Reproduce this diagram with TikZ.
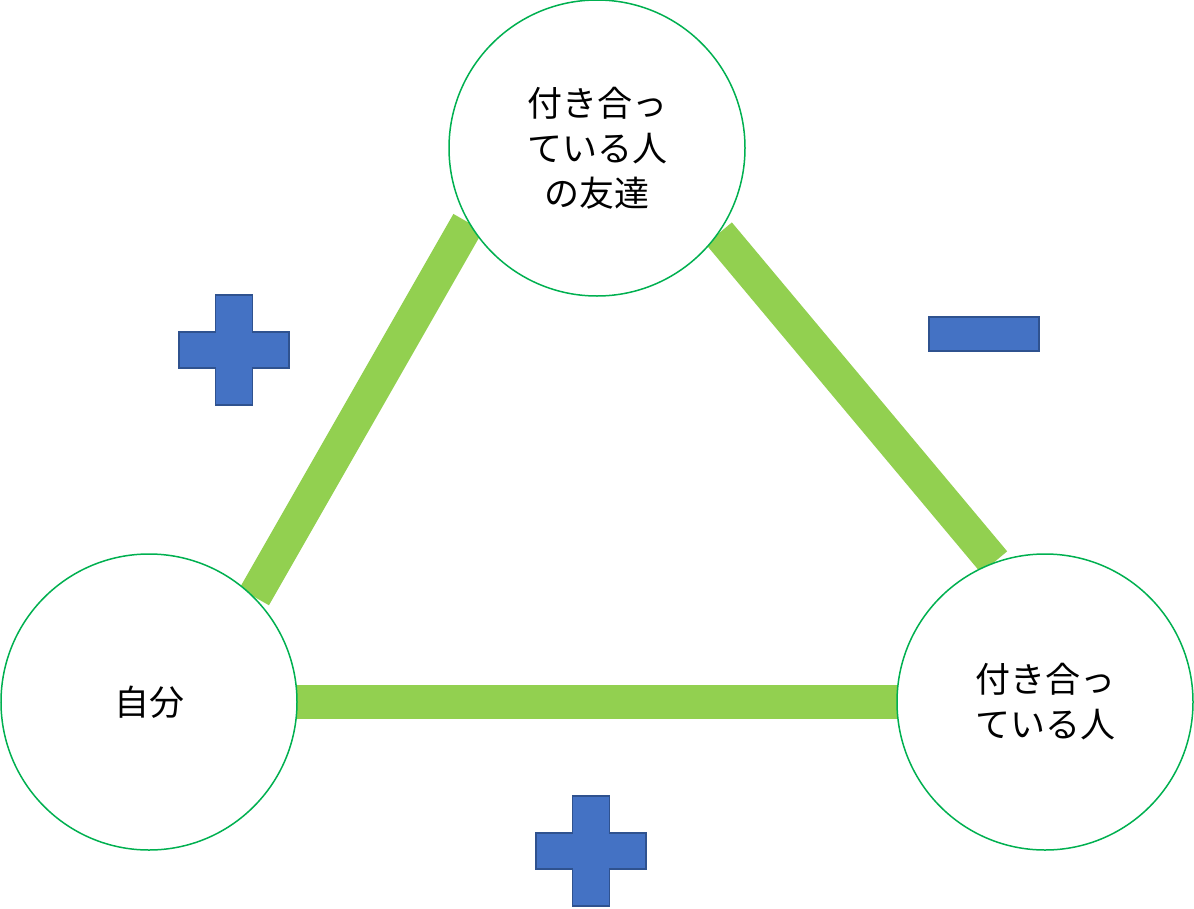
\documentclass[tikz,border=0pt]{standalone}
\usepackage{fontspec}
\newfontfamily\cjk{Noto Sans CJK JP}
\usetikzlibrary{backgrounds,calc}
\definecolor{linkgreen}{RGB}{146,208,80}
\definecolor{ringgreen}{RGB}{0,176,80}
\definecolor{signblue}{RGB}{68,114,196}
\definecolor{signedge}{RGB}{47,82,143}
\tikzset{
  person/.style={circle,draw=ringgreen,line width=1.5pt,fill=white,minimum size=296pt,inner sep=0pt,align=center,font=\cjk\fontsize{35}{45}\selectfont},
  link/.style={linkgreen,line width=34pt},
  sign/.style={fill=signblue,draw=signedge,line width=1.5pt}
}
\newcommand{\plussign}[1]{\draw[sign] ($(#1)+(-18.5,-55)$) -- ++(37,0) -- ++(0,37) -- ++(36.5,0) -- ++(0,36) -- ++(-36.5,0) -- ++(0,37) -- ++(-37,0) -- ++(0,-37) -- ++(-36.5,0) -- ++(0,-36) -- ++(36.5,0) -- cycle;}
\begin{document}
\begin{tikzpicture}[x=1pt,y=-1pt]
\useasboundingbox (0,0) rectangle (1194,908);
\node[person] (friend) at (597,148) {付き合っ\\ている人\\の友達};
\node[person] (self) at (149,702) {自分};
\node[person] (partner) at (1045,702) {付き合っ\\ている人};
\begin{scope}[on background layer]
\draw[link] (self.45) -- (friend.210);
\draw[link] (friend.325) -- (partner.110);
\draw[link] (self.center) -- (partner.center);
\end{scope}
\coordinate (plusA) at (234,350);
\coordinate (plusB) at (591,851);
\plussign{plusA}
\plussign{plusB}
\draw[sign] (929,317) rectangle (1039,351);
\end{tikzpicture}
\end{document}
